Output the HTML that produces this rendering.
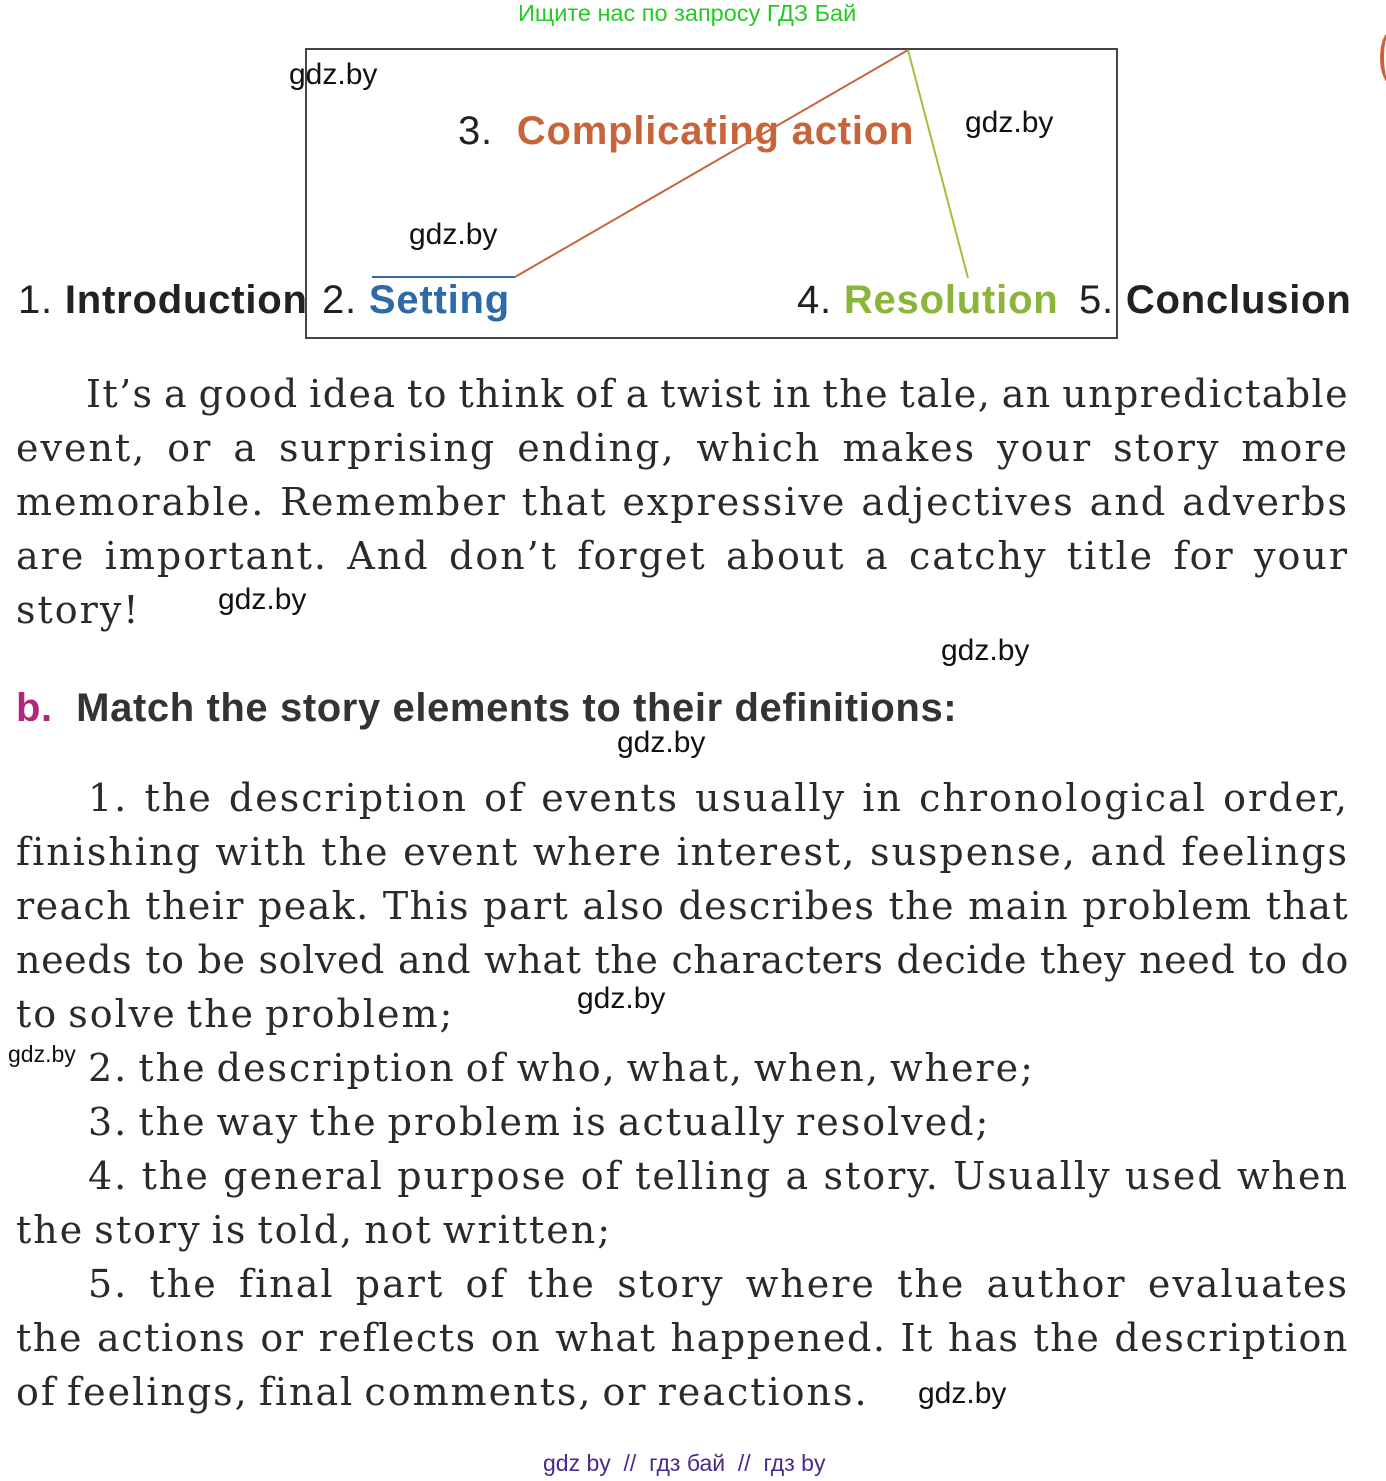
<!DOCTYPE html>
<html><head><meta charset="utf-8"><style>
body{margin:0;width:1386px;height:1481px;background:#fff;position:relative;overflow:hidden;font-family:"Liberation Sans",sans-serif}
.a{position:absolute;white-space:nowrap}
.s{position:absolute;left:16px;width:1333px;font-family:"DejaVu Serif","Liberation Serif",serif;font-size:38px;color:#2a2a2a;text-align:justify;text-align-last:justify;white-space:nowrap;line-height:54px;letter-spacing:2px;word-spacing:-4px}
.n{text-align-last:left}
.w{font-size:30px;color:#111}
.h{font-size:40px;color:#222;letter-spacing:0.8px}
</style></head><body>
<div class="a" style="left:518px;top:0;font-size:23.5px;color:#22cc22">Ищите нас по запросу ГДЗ Бай</div>
<div style="position:absolute;left:1380px;top:30px;width:20px;height:55px;border-left:4px solid #c8643a;border-radius:50%"></div>
<div style="position:absolute;left:305px;top:48px;width:809px;height:287px;border:2px solid #444"></div>
<svg style="position:absolute;left:0;top:0" width="1386" height="340">
<line x1="372" y1="277" x2="515" y2="277" stroke="#2d6aa8" stroke-width="2"/>
<line x1="515" y1="277" x2="908" y2="50" stroke="#c8643a" stroke-width="2"/>
<line x1="908" y1="50" x2="968" y2="278" stroke="#9dc23a" stroke-width="2"/>
</svg>
<div class="a w" style="left:289px;top:58px">gdz.by</div>
<div class="a w" style="left:965px;top:106px">gdz.by</div>
<div class="a w" style="left:409px;top:218px">gdz.by</div>
<div class="a h" style="left:458px;top:109px">3.&nbsp; <b style="color:#c8643a">Complicating action</b></div>
<div class="a h" style="left:18px;top:278px">1. <b>Introduction</b></div>
<div class="a h" style="left:322px;top:278px">2. <b style="color:#2d6aa8">Setting</b></div>
<div class="a h" style="left:797px;top:278px">4. <b style="color:#8ab43a">Resolution</b></div>
<div class="a h" style="left:1079px;top:278px">5. <b>Conclusion</b></div>

<div class="s" style="top:367px;left:86px;width:1263px;letter-spacing:1.4px">It’s a good idea to think of a twist in the tale, an unpredictable</div>
<div class="s" style="top:421px">event, or a surprising ending, which makes your story more</div>
<div class="s" style="top:475px">memorable. Remember that expressive adjectives and adverbs</div>
<div class="s" style="top:529px">are important. And don’t forget about a catchy title for your</div>
<div class="s n" style="top:583px">story!</div>
<div class="a w" style="left:218px;top:583px">gdz.by</div>
<div class="a w" style="left:941px;top:634px">gdz.by</div>
<div class="a" style="left:16px;top:686px;font-size:40px;font-weight:bold;color:#333;letter-spacing:0.6px"><span style="color:#b0287a">b.</span>&nbsp; Match the story elements to their definitions:</div>
<div class="a w" style="left:617px;top:726px">gdz.by</div>

<div class="s" style="top:771px;left:88px;width:1261px">1. the description of events usually in chronological order,</div>
<div class="s" style="top:825px">finishing with the event where interest, suspense, and feelings</div>
<div class="s" style="top:879px;letter-spacing:1.4px">reach their peak. This part also describes the main problem that</div>
<div class="s" style="top:933px;letter-spacing:0.6px;word-spacing:-3px">needs to be solved and what the characters decide they need to do</div>
<div class="s n" style="top:987px">to solve the problem;</div>
<div class="a w" style="left:577px;top:982px">gdz.by</div>
<div class="a" style="left:8px;top:1041px;font-size:23px;color:#111">gdz.by</div>
<div class="s n" style="top:1041px;left:88px">2. the description of who, what, when, where;</div>
<div class="s n" style="top:1095px;left:88px">3. the way the problem is actually resolved;</div>
<div class="s" style="top:1149px;left:88px;width:1261px">4. the general purpose of telling a story. Usually used when</div>
<div class="s n" style="top:1203px">the story is told, not written;</div>
<div class="s" style="top:1257px;left:88px;width:1261px">5. the final part of the story where the author evaluates</div>
<div class="s" style="top:1311px;letter-spacing:1.6px">the actions or reflects on what happened. It has the description</div>
<div class="s n" style="top:1365px">of feelings, final comments, or reactions.</div>
<div class="a w" style="left:918px;top:1377px">gdz.by</div>
<div class="a" style="left:543px;top:1450px;font-size:23px;color:#4b2a8a">gdz by &nbsp;// &nbsp;гдз бай &nbsp;// &nbsp;гдз by</div>
</body></html>
